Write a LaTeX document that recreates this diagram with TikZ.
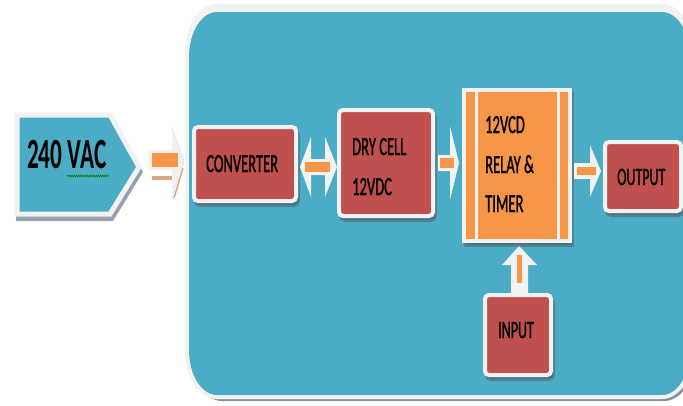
\documentclass[tikz,border=0pt]{standalone}
\usepackage{fontspec}
\usepackage{graphicx}
\setmainfont{Carlito}
\newfontfamily\lblfont{Carlito}[FakeBold=1.6]
\usetikzlibrary{decorations.pathmorphing}
\definecolor{panelblue}{HTML}{4BACC6}
\definecolor{boxred}{HTML}{C0504D}
\definecolor{boxorange}{HTML}{F79646}
\definecolor{rim}{HTML}{F2F2F2}
\definecolor{shadowgray}{HTML}{4F6470}
\definecolor{tanshadow}{HTML}{D9A882}
\newcommand\sqz[1]{\scalebox{0.56}[1]{#1}}
% l t r b rx ry
\newcommand\panelpath[6]{%
  ({#1+#5},#2) -- ({#3-#5},#2) arc[start angle=270,end angle=360,x radius=#5,y radius=#6]
  -- (#3,{#4-#6}) arc[start angle=0,end angle=90,x radius=#5,y radius=#6]
  -- ({#1+#5},#4) arc[start angle=90,end angle=180,x radius=#5,y radius=#6]
  -- (#1,{#2+#6}) arc[start angle=180,end angle=270,x radius=#5,y radius=#6] -- cycle}
\begin{document}
\begin{tikzpicture}[x=1pt,y=-1pt,
  boxshadow/.style={preaction={draw=shadowgray,fill=shadowgray,line width=4pt,opacity=.55,
      transform canvas={shift={(2pt,-4pt)}}}},
  redbox/.style={boxshadow,draw=rim,fill=boxred,line width=4pt,rounded corners=4pt,inner sep=0pt},
  orangebox/.style={boxshadow,draw=rim,fill=boxorange,line width=4pt,inner sep=0pt},
  lbl/.style={anchor=base west,inner sep=0pt,font=\lblfont\fontsize{26}{28}\selectfont,text=black},
  barrow/.style={fill=rim},
  bshaft/.style={fill=boxorange}]
\useasboundingbox (0,0) rectangle (683,405);
\clip (0,0) rectangle (683,405);
\fill[white] (0,0) rectangle (683,405);

% big panel
\fill[shadowgray!70] \panelpath{190}{10}{696}{401}{32}{49};
\fill[rim] \panelpath{185}{4}{694}{399}{32}{49};
\fill[panelblue] \panelpath{189}{12}{690}{395}{28}{45};

% 240 VAC pentagon
\fill[shadowgray!60] (16,120)--(113,120)--(143,172)--(113,221)--(16,221)--cycle;
\filldraw[draw=rim,line width=5pt,line join=miter,fill=panelblue]
  (17,115)--(110,115)--(139,167)--(110,214)--(17,214)--cycle;
\node[anchor=base west,inner sep=0pt,font=\fontsize{43}{45}\selectfont\bfseries] (vac) at (27,168) {\scalebox{0.54}[1]{240 VAC}};
\draw[green!50!black,line width=0.6pt,decorate,decoration={snake,amplitude=0.9pt,segment length=2.2pt}] (67,176)--(109,176);

% main boxes
\node[redbox,minimum width=102pt,minimum height=74pt] (conv) at (245,164) {};
\node[redbox,minimum width=94pt,minimum height=106pt] (dry) at (386,163) {};
\node[orangebox,minimum width=106pt,minimum height=151pt] (relay) at (517,165.5) {};
\draw[rim,line width=3pt] ([xshift=14pt]relay.north west) -- ([xshift=14pt]relay.south west);
\draw[rim,line width=3pt] ([xshift=-14pt]relay.north east) -- ([xshift=-14pt]relay.south east);
\node[redbox,minimum width=76pt,minimum height=69pt] (out) at (643,176.5) {};
\node[redbox,minimum width=66pt,minimum height=80pt] (inp) at (518,335) {};

% labels
\node[lbl] (tconv) at (206,172) {\sqz{CONVERTER}};
\node[lbl] (tdry1) at (352,155) {\sqz{DRY CELL}};
\node[lbl] (tdry2) at (352,195) {\sqz{12VDC}};
\node[lbl] (trel1) at (485,133) {\sqz{12VCD}};
\node[lbl] (trel2) at (485,173) {\sqz{RELAY \&}};
\node[lbl] (trel3) at (485,212) {\sqz{TIMER}};
\node[lbl,font=\lblfont\fontsize{25}{27}\selectfont] (tout) at (617,185) {\sqz{OUTPUT}};
\node[lbl,font=\lblfont\fontsize{25}{27}\selectfont] (tinp) at (498,338) {\sqz{INPUT}};

% arrow 240 VAC -> converter
\fill[tanshadow] (152,176) rectangle (172,180);
\draw[tanshadow,line width=1.5pt] (183,168) -- (174,198);
\fill[barrow] (148,150)--(172,150)--(172,127)--(184,161)--(172,197)--(172,170)--(148,170)--cycle;
\draw[black!12,line width=0.6pt] (172,127)--(184,161)--(172,197);
\fill[bshaft] (152,153) rectangle (178,167);

% double arrow converter <-> dry cell
\fill[barrow] (300,167)--(311,137)--(311,159)--(325,159)--(325,137)--(337,167)--(325,197)--(325,175)--(311,175)--(311,197)--cycle;
\fill[bshaft] (305,162) rectangle (330,172);

% arrow dry cell -> relay
\fill[barrow] (438,155)--(450,155)--(450,126)--(459,163)--(450,200)--(450,171)--(438,171)--cycle;
\fill[bshaft] (440,158) rectangle (454,168);

% arrow relay -> output
\fill[barrow] (574,163)--(590,163)--(590,145)--(601,171)--(590,197)--(590,179)--(574,179)--cycle;
\fill[bshaft] (577,167) rectangle (596,175);

% arrow input -> relay
\fill[barrow] (511,293)--(511,265)--(502,265)--(519,246)--(537,265)--(528,265)--(528,293)--cycle;
\fill[bshaft] (517,255) rectangle (522,283);
\end{tikzpicture}
\end{document}
